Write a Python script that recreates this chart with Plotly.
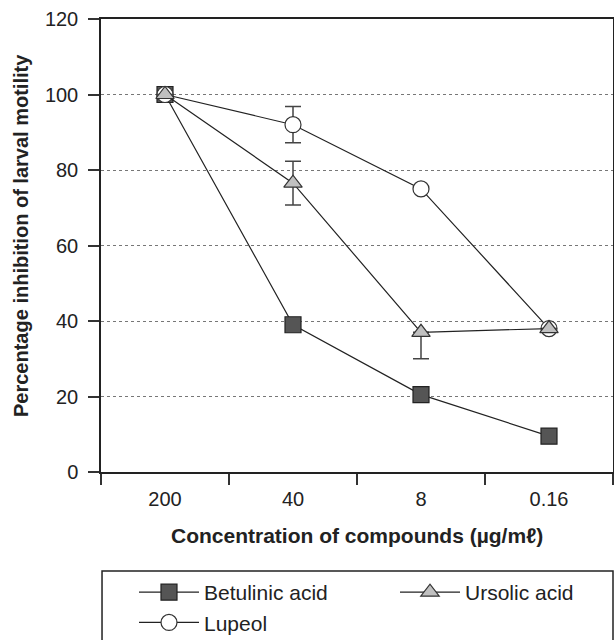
import plotly.graph_objects as go

categories = ["200", "40", "8", "0.16"]
betulinic = [100, 39, 20.5, 9.5]
ursolic = [100, 76.5, 37, 38]
ursolic_err_plus = [0, 5.8, 0, 0]
ursolic_err_minus = [0, 5.8, 7, 0]
lupeol = [100, 92, 75, 38]
lupeol_err = [0, 4.8, 0, 0]
y_ticks = [0, 20, 40, 60, 80, 100, 120]

line_col = "#222222"
fig = go.Figure()
fig.add_trace(go.Scatter(
    x=categories, y=betulinic, name="Betulinic acid", mode="lines+markers",
    line=dict(color=line_col, width=1.2), legend="legend",
    marker=dict(symbol="square", size=16, color="#555555", line=dict(color="#222222", width=1.2)),
))
fig.add_trace(go.Scatter(
    x=categories, y=lupeol, name="Lupeol", mode="lines+markers",
    line=dict(color=line_col, width=1.2), legend="legend",
    error_y=dict(type="data", array=lupeol_err, visible=True, color="#444444", thickness=1.5, width=8),
    marker=dict(symbol="circle", size=16, color="white", line=dict(color="#333333", width=1.2)),
))
fig.add_trace(go.Scatter(
    x=categories, y=ursolic, name="Ursolic acid", mode="lines+markers",
    line=dict(color=line_col, width=1.2), legend="legend2",
    error_y=dict(type="data", symmetric=False, array=ursolic_err_plus, arrayminus=ursolic_err_minus,
                 visible=True, color="#444444", thickness=1.5, width=8),
    marker=dict(symbol="triangle-up", size=16, color="#c0c0c0", line=dict(color="#333333", width=1.2)),
))

font_family = "Liberation Sans, Arial, sans-serif"
leg_common = dict(orientation="v", yanchor="top", xanchor="left", xref="container", yref="container",
                  borderwidth=0, bgcolor="rgba(0,0,0,0)",
                  font=dict(size=21, color="#222222"), tracegroupgap=0, itemwidth=60)
fig.update_layout(
    width=614, height=640,
    margin=dict(l=101, r=1, t=19, b=168, autoexpand=False),
    paper_bgcolor="white", plot_bgcolor="white",
    font=dict(family=font_family, size=20, color="#222222"),
    showlegend=True,
    legend=dict(x=134 / 614, y=1 - 572 / 640, **leg_common),
    legend2=dict(x=395 / 614, y=1 - 572 / 640, **leg_common),
    xaxis=dict(
        type="category", categoryorder="array", categoryarray=categories,
        range=[-0.5, 3.5], showline=True, linecolor="#222222", linewidth=1.5, mirror=True,
        ticks="outside", tickson="boundaries", ticklen=11, tickcolor="#333333", tickwidth=1.5,
        showgrid=False, tickfont=dict(size=20), ticklabelstandoff=8,
    ),
    yaxis=dict(
        range=[0, 120], tickvals=y_ticks, showline=True, linecolor="#222222", linewidth=1.5, mirror=True,
        ticks="outside", ticklen=11, tickcolor="#333333", tickwidth=1.5,
        showgrid=True, gridcolor="#777777", griddash="dot", gridwidth=1,
        zeroline=False, tickfont=dict(size=20), ticklabelstandoff=6,
    ),
    annotations=[
        dict(text="<b>Concentration of compounds (µg/mℓ)</b>", xref="paper", yref="paper",
             x=0.5, y=-(535 - 472) / 453, xanchor="center", yanchor="middle",
             showarrow=False, font=dict(size=21, color="#222222")),
        dict(text="<b>Percentage inhibition of larval motility</b>", xref="paper", yref="paper",
             x=(21 - 101) / 512, y=(472 - 236) / 453, xanchor="center", yanchor="middle",
             textangle=-90, showarrow=False, font=dict(size=20, color="#222222")),
    ],
    shapes=[dict(type="rect", xref="paper", yref="paper",
                 x0=0.002, x1=1.0, y0=-0.2185, y1=-0.45,
                 line=dict(color="#222222", width=1.5))],
)
fig.write_html("out.html", config={"displayModeBar": False},
               post_script="document.body.style.margin='0';document.body.style.overflow='hidden';")
